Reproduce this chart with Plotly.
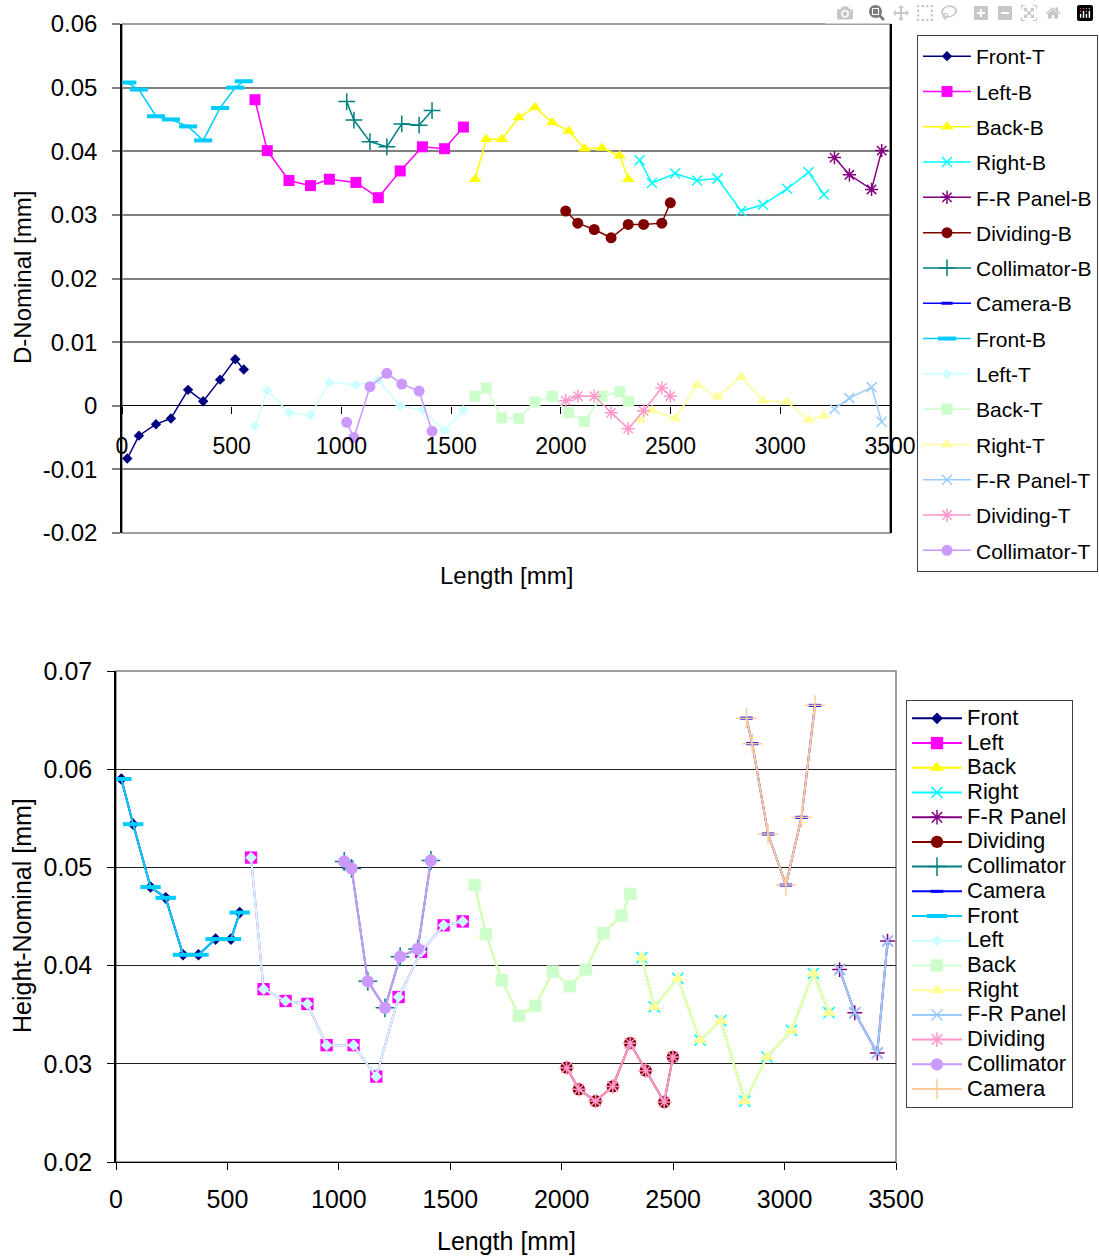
import plotly.graph_objects as go

# ---------------- DATA ----------------
# Lengths [mm] of the measuring points of each component
x_front = [24, 77, 155, 223, 301, 370, 447, 516, 555]
x_left = [606, 662, 761, 859, 945, 1066, 1168, 1268, 1369, 1470, 1556]
x_collimator = [1024, 1057, 1130, 1207, 1275, 1354, 1413]
x_back = [1609, 1660, 1731, 1808, 1882, 1961, 2036, 2108, 2187, 2268, 2308]
x_right = [2359, 2415, 2521, 2621, 2714, 2822, 2921, 3031, 3129, 3199]
x_frpanel = [3247, 3315, 3416, 3462]
x_dividing = [2022, 2077, 2152, 2229, 2307, 2377, 2460, 2499]
x_camera = [2829, 2855, 2926, 3006, 3076, 3136]
x_camera_b = [None]  # Camera-B has no D-Nominal values in the chart

# Top chart: D-Nominal [mm]
d_front_t = [-0.0083, -0.0047, -0.0029, -0.0020, 0.0025, 0.0007, 0.0041, 0.0073, 0.0057]
d_left_b = [0.0481, 0.0401, 0.0354, 0.0346, 0.0356, 0.0351, 0.0327, 0.0369, 0.0407, 0.0404, 0.0438]
d_back_b = [0.0356, 0.0419, 0.0419, 0.0453, 0.0469, 0.0445, 0.0432, 0.0404, 0.0405, 0.0393, 0.0356]
d_right_b = [0.0386, 0.0350, 0.0365, 0.0354, 0.0357, 0.0306, 0.0316, 0.0341, 0.0367, 0.0332]
d_frpanel_b = [0.0390, 0.0363, 0.0340, 0.0401]
d_dividing_b = [0.0306, 0.0287, 0.0277, 0.0264, 0.0285, 0.0285, 0.0287, 0.0319]
d_collimator_b = [0.0478, 0.0449, 0.0415, 0.0407, 0.0443, 0.0441, 0.0464]
d_camera_b = [None]
d_front_b = [0.0508, 0.0497, 0.0455, 0.0450, 0.0439, 0.0417, 0.0468, 0.0500, 0.0510]
d_left_t = [-0.0032, 0.0024, -0.0011, -0.0015, 0.0037, 0.0033, 0.0040, 0.0000, -0.0007, -0.0039, -0.0007]
d_back_t = [0.0015, 0.0028, -0.0019, -0.0020, 0.0006, 0.0015, -0.0011, -0.0025, 0.0015, 0.0022, 0.0007]
d_right_t = [-0.0022, -0.0007, -0.0020, 0.0033, 0.0014, 0.0045, 0.0008, 0.0006, -0.0022, -0.0016]
d_frpanel_t = [-0.0005, 0.0012, 0.0029, -0.0025]
d_dividing_t = [0.0008, 0.0015, 0.0015, -0.0011, -0.0036, -0.0008, 0.0028, 0.0015]
d_collimator_t = [-0.0026, -0.0050, 0.0030, 0.0051, 0.0034, 0.0023, -0.0040]

# Bottom chart: Height-Nominal [mm]
h_front = [0.0590, 0.0544, 0.0480, 0.0469, 0.0411, 0.0411, 0.0427, 0.0427, 0.0454]
h_left = [0.0510, 0.0376, 0.0364, 0.0361, 0.0319, 0.0319, 0.0287, 0.0368, 0.0414, 0.0441, 0.0445]
h_back = [0.0482, 0.0432, 0.0385, 0.0349, 0.0359, 0.0394, 0.0379, 0.0396, 0.0433, 0.0451, 0.0473]
h_right = [0.0408, 0.0358, 0.0387, 0.0324, 0.0344, 0.0262, 0.0307, 0.0334, 0.0392, 0.0352]
h_frpanel = [0.0396, 0.0352, 0.0311, 0.0425]
h_dividing = [0.0296, 0.0274, 0.0262, 0.0277, 0.0321, 0.0293, 0.0261, 0.0307]
h_collimator = [0.0506, 0.0499, 0.0384, 0.0357, 0.0409, 0.0417, 0.0507]
h_camera = [0.0652, 0.0626, 0.0534, 0.0482, 0.0551, 0.0665]

top_names = ["Front-T", "Left-B", "Back-B", "Right-B", "F-R Panel-B", "Dividing-B",
             "Collimator-B", "Camera-B", "Front-B", "Left-T", "Back-T", "Right-T",
             "F-R Panel-T", "Dividing-T", "Collimator-T"]
bottom_names = ["Front", "Left", "Back", "Right", "F-R Panel", "Dividing", "Collimator",
                "Camera", "Front", "Left", "Back", "Right", "F-R Panel", "Dividing",
                "Collimator", "Camera"]

x_ticks = [0, 500, 1000, 1500, 2000, 2500, 3000, 3500]
x_tick_text = ["0", "500", "1000", "1500", "2000", "2500", "3000", "3500"]
top_y_ticks = [-0.02, -0.01, 0, 0.01, 0.02, 0.03, 0.04, 0.05, 0.06]
top_y_text = ["-0.02", "-0.01", "0", "0.01", "0.02", "0.03", "0.04", "0.05", "0.06"]
bot_y_ticks = [0.02, 0.03, 0.04, 0.05, 0.06, 0.07]
bot_y_text = ["0.02", "0.03", "0.04", "0.05", "0.06", "0.07"]

top_x = [x_front, x_left, x_back, x_right, x_frpanel, x_dividing, x_collimator, x_camera_b,
         x_front, x_left, x_back, x_right, x_frpanel, x_dividing, x_collimator]
top_y = [d_front_t, d_left_b, d_back_b, d_right_b, d_frpanel_b, d_dividing_b, d_collimator_b,
         d_camera_b, d_front_b, d_left_t, d_back_t, d_right_t, d_frpanel_t, d_dividing_t,
         d_collimator_t]
bot_x = [x_front, x_left, x_back, x_right, x_frpanel, x_dividing, x_collimator, x_camera] * 2
bot_y = [h_front, h_left, h_back, h_right, h_frpanel, h_dividing, h_collimator, h_camera] * 2

# ---------------- STYLES ----------------
FONT = "Liberation Sans, Arial, Helvetica, sans-serif"
styles = [
    dict(color="#000080", symbol="diamond", size=8),
    dict(color="#FF00FF", symbol="square", size=11),
    dict(color="#FFFF00", symbol="triangle-up", size=11),
    dict(color="#00FFFF", symbol="x-thin-open", size=10, mlw=1.5),
    dict(color="#800080", symbol="asterisk-open", size=11, mlw=1.5),
    dict(color="#800000", symbol="circle", size=11),
    dict(color="#008080", symbol="cross-thin-open", size=12, mlw=1.5),
    dict(color="#0000FF", symbol="line-ew-open", size=8, mlw=3),
    dict(color="#00CCFF", symbol="line-ew-open", size=13, mlw=4),
    dict(color="#CCFFFF", symbol="diamond", size=8),
    dict(color="#CCFFCC", symbol="square", size=11),
    dict(color="#FFFF99", symbol="triangle-up", size=11),
    dict(color="#99CCFF", symbol="x-thin-open", size=10, mlw=1.5),
    dict(color="#FF99CC", symbol="asterisk-open", size=11, mlw=1.5),
    dict(color="#CC99FF", symbol="circle", size=11),
    dict(color="#FFCC99", symbol="cross-thin-open", size=13, mlw=1.5),
]


def make_marker(st, scale=1.0):
    m = dict(symbol=st["symbol"], size=st["size"] * scale, color=st["color"])
    if "mlw" in st:
        m["line"] = dict(color=st["color"], width=st["mlw"])
    else:
        m["line"] = dict(width=0)
    return m


fig = go.Figure()

W, H = 1099, 1256
# plot areas in pixels
T_L, T_R, T_T, T_B = 122, 890, 24, 533
B_L, B_R, B_T, B_B = 116, 896, 671, 1162


def px(x):
    return x / W


def py(y):
    return 1 - y / H


# top traces
for i, name in enumerate(top_names):
    st = styles[i]
    fig.add_trace(go.Scatter(
        x=top_x[i], y=top_y[i], name=name, mode="lines+markers",
        line=dict(color=st["color"], width=1.5),
        marker=make_marker(st),
        xaxis="x", yaxis="y", legend="legend", legendgroup=f"t{i}",
        showlegend=True,
    ))

# bottom traces
for i, name in enumerate(bottom_names):
    st = styles[i]
    fig.add_trace(go.Scatter(
        x=bot_x[i], y=bot_y[i],
        name=f'<span style="font-size:22px">{name}</span>',
        mode="lines+markers",
        line=dict(color=st["color"], width=2),
        marker=make_marker(st, 1.12),
        xaxis="x2", yaxis="y2", legend="legend2",
    ))

top_ydom = [py(T_B), py(T_T)]
zero_pos = top_ydom[0] + (0 - (-0.02)) / 0.08 * (top_ydom[1] - top_ydom[0])

fig.update_layout(
    width=W, height=H,
    margin=dict(l=0, r=0, t=0, b=0, pad=0, autoexpand=False),
    paper_bgcolor="white", plot_bgcolor="white",
    font=dict(family=FONT, color="black"),
    showlegend=True,
    xaxis=dict(
        domain=[px(T_L), px(T_R)], range=[0, 3500], anchor="free", position=zero_pos,
        tickvals=x_ticks, ticktext=x_tick_text, showgrid=False, zeroline=False,
        showline=False, ticks="outside", ticklen=7, tickwidth=1, tickcolor="black",
        tickfont=dict(size=23), ticklabelstandoff=13, automargin=False,
    ),
    yaxis=dict(
        domain=top_ydom, range=[-0.02, 0.06], anchor="x",
        tickvals=top_y_ticks, ticktext=top_y_text,
        showgrid=True, gridcolor="#808080", gridwidth=1.5,
        zeroline=True, zerolinecolor="black", zerolinewidth=1.2,
        showline=True, linecolor="black", linewidth=1.5, mirror=True,
        ticks="outside", ticklen=8, tickcolor="#808080", tickwidth=1.5,
        tickfont=dict(size=24), ticklabelstandoff=10, automargin=False,
    ),
    xaxis2=dict(
        domain=[px(B_L), px(B_R)], range=[0, 3500], anchor="y2",
        tickvals=x_ticks, ticktext=x_tick_text, showgrid=False, zeroline=False,
        showline=True, linecolor="black", linewidth=1.2,
        ticks="outside", ticklen=7, tickcolor="black", tickwidth=1,
        tickfont=dict(size=25), ticklabelstandoff=8, automargin=False,
    ),
    yaxis2=dict(
        domain=[py(B_B), py(B_T)], range=[0.02, 0.07], anchor="x2",
        tickvals=bot_y_ticks, ticktext=bot_y_text,
        showgrid=True, gridcolor="#202020", gridwidth=1,
        zeroline=False, showline=True, linecolor="black", linewidth=1.5,
        ticks="outside", ticklen=7, tickcolor="black", tickwidth=1,
        tickfont=dict(size=25), ticklabelstandoff=10, automargin=False,
    ),
    legend=dict(
        x=px(917), y=py(35), xanchor="left", yanchor="top",
        bgcolor="white", bordercolor="#404040", borderwidth=1,
        font=dict(size=21, family=FONT), tracegroupgap=5, itemwidth=48,
        traceorder="grouped",
    ),
    legend2=dict(
        x=px(906), y=py(700), xanchor="left", yanchor="top",
        bgcolor="white", bordercolor="#404040", borderwidth=1,
        font=dict(size=16.7, family=FONT), tracegroupgap=0, itemwidth=50,
        traceorder="normal",
    ),
    shapes=[
        dict(type="rect", xref="x domain", yref="y domain", x0=0, x1=1, y0=0, y1=1,
             line=dict(color="#808080", width=1.5), layer="below"),
        dict(type="rect", xref="x2 domain", yref="y2 domain", x0=0, x1=1, y0=0, y1=1,
             line=dict(color="#808080", width=1.5), layer="below"),
    ],
    annotations=[
        dict(text="Length [mm]", x=px(506), y=py(575), xref="paper", yref="paper",
             showarrow=False, xanchor="center", yanchor="middle", font=dict(size=24)),
        dict(text="D-Nominal [mm]", x=px(22), y=py(278), xref="paper", yref="paper",
             showarrow=False, xanchor="center", yanchor="middle", textangle=-90,
             font=dict(size=24)),
        dict(text="Length [mm]", x=px(506), y=py(1241), xref="paper", yref="paper",
             showarrow=False, xanchor="center", yanchor="middle", font=dict(size=25)),
        dict(text="Height-Nominal [mm]", x=px(22), y=py(916), xref="paper", yref="paper",
             showarrow=False, xanchor="center", yanchor="middle", textangle=-90,
             font=dict(size=25)),
    ],
)

fig.write_html("out.html", post_script="document.body.style.margin='0';")
